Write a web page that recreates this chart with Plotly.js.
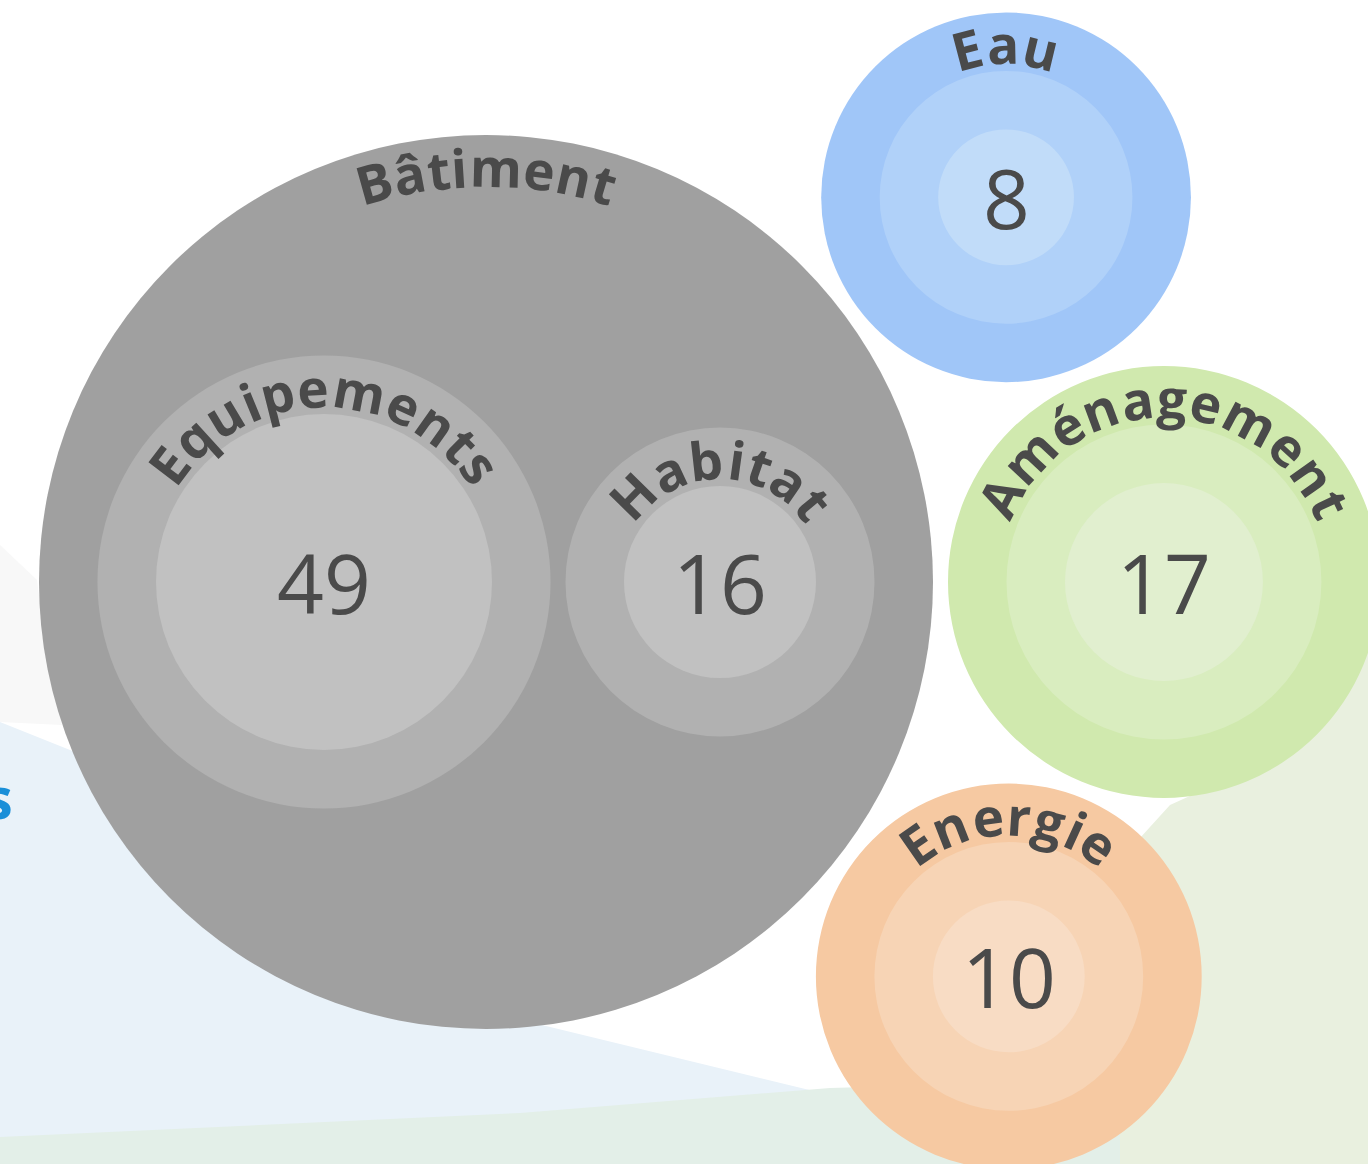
<!DOCTYPE html>
<html><head><meta charset="utf-8">
<script src="https://cdn.plot.ly/plotly-3.0.1.min.js"></script>
<style>html,body{margin:0;padding:0;background:#fff;overflow:hidden}#chart{width:1368px;height:1164px}</style>
</head><body><div id="chart"></div>
<script>
// ---------------- data ----------------
const groupNames = ['Bâtiment', 'Eau', 'Aménagement', 'Energie'];
const leafNames  = ['Equipements', 'Habitat', 'Eau', 'Aménagement', 'Energie'];
const leafGroups = ['Bâtiment', 'Bâtiment', 'Eau', 'Aménagement', 'Energie'];
const leafValues = [49, 16, 8, 17, 10];

// ---------------- styles ----------------
const groupColors = {
  'Bâtiment':    ['#a0a0a0', '#b1b1b1', '#c1c1c1'],
  'Eau':         ['#a0c6f8', '#b0d1f9', '#c1dcf9'],
  'Aménagement': ['#d0e9ae', '#d9edbf', '#e1efcf'],
  'Energie':     ['#f6c9a2', '#f7d4b5', '#f8dcc4']
};
const W = 1368, H = 1164;
const K = 24;          // px of radius per sqrt(value)
const PAD = 58.5;      // ring padding per level
const GAP = 15;        // gap between siblings
const LABEL_FS = 53, LABEL_INSET = 52, LETTER_SP = 0.5;
const NUM_FS = 82;
const TEXT_COLOR = '#4a4a4a';
const FONT = '"Open Sans", "Noto Sans", sans-serif';
const VIEW_X = [-486, W - 486], VIEW_Y = [H - 582, -582];

// ---------------- packing ----------------
const groups = groupNames.map(g => {
  const idx = leafNames.map((_, i) => i).filter(i => leafGroups[i] === g);
  const leaves = idx.map(i => {
    const rin = K * Math.sqrt(leafValues[i]);
    return {name: leafNames[i], value: leafValues[i], rin, r: rin + PAD, dx: 0, dy: 0};
  });
  let R;
  if (leaves.length === 1) { R = leaves[0].r + PAD; }
  else {
    const total = leaves.reduce((s, l) => s + 2 * l.r, 0) + GAP * (leaves.length - 1);
    let x = -total / 2;
    leaves.forEach(l => { l.dx = x + l.r; x += 2 * l.r + GAP; });
    R = total / 2 + PAD;
  }
  return {name: g, leaves, r: R, x: 0, y: 0};
});
const order = groups.slice().sort((a, b) => b.r - a.r);
const A = order[0], B = order[1];
A.x = 0; A.y = 0;
B.x = A.r + B.r + GAP; B.y = 0;
function tangent(a, b, c, side) {
  const da = a.r + c.r + GAP, db = b.r + c.r + GAP;
  const dx = b.x - a.x, dy = b.y - a.y, d = Math.hypot(dx, dy);
  const ux = dx / d, uy = dy / d;
  const along = (da * da - db * db + d * d) / (2 * d);
  const h = Math.sqrt(Math.max(0, da * da - along * along));
  c.x = a.x + ux * along - uy * h * side;
  c.y = a.y + uy * along + ux * h * side;
}
order.slice(2).forEach((c, i) => tangent(A, B, c, i % 2 === 0 ? 1 : -1));

// ---------------- shapes ----------------
const shapes = [];
function P(px, py) { return (px / W).toFixed(5) + ',' + (1 - py / H).toFixed(5); }
function poly(pts, color) {
  shapes.push({type: 'path', xref: 'paper', yref: 'paper', layer: 'below',
    path: 'M' + pts.map(p => P(p[0], p[1])).join('L') + 'Z',
    fillcolor: color, line: {width: 0}});
}
// background scenery
poly([[0,545],[37,580],[50,680],[62,725],[0,722]], '#f8f8f8');
poly([[0,722],[120,770],[480,1010],[830,1095],[840,1164],[0,1164]], '#e9f2f9');
poly([[0,1137],[520,1113],[830,1088],[1120,1080],[1120,1164],[0,1164]], '#e3efe8');
poly([[1120,860],[1170,805],[1280,755],[1368,640],[1368,1164],[1120,1164]], '#e9f0df');

function circ(cx, cy, r, color) {
  shapes.push({type: 'circle', xref: 'x', yref: 'y', layer: 'below',
    x0: cx - r, x1: cx + r, y0: cy - r, y1: cy + r,
    fillcolor: color, line: {width: 0}});
}
const annotations = [];
const cvs = document.createElement('canvas').getContext('2d');
function arcText(text, cx, cy, R) {
  const rb = R - LABEL_INSET;
  cvs.font = '700 ' + LABEL_FS + 'px "Open Sans"';
  const chars = [...text];
  const widths = chars.map(ch => cvs.measureText(ch).width);
  const total = widths.reduce((a, b) => a + b, 0) + LETTER_SP * (chars.length - 1);
  let s = -total / 2;
  const rc = rb + 0.39 * LABEL_FS;
  chars.forEach((ch, i) => {
    const th = (s + widths[i] / 2) / rb;
    annotations.push({xref: 'x', yref: 'y', x: cx + rc * Math.sin(th), y: cy - rc * Math.cos(th),
      text: ch, textangle: th * 180 / Math.PI, showarrow: false, xanchor: 'center', yanchor: 'middle',
      font: {family: FONT, size: LABEL_FS, color: TEXT_COLOR, weight: 700}, borderpad: 0});
    s += widths[i] + LETTER_SP;
  });
}
const numX = [], numY = [], numT = [];
groups.forEach(g => {
  const col = groupColors[g.name];
  circ(g.x, g.y, g.r, col[0]);
  g.leaves.forEach(l => {
    const cx = g.x + l.dx, cy = g.y + l.dy;
    circ(cx, cy, l.r, col[1]);
    circ(cx, cy, l.rin, col[2]);
    if (l.name !== g.name) arcText(l.name, cx, cy, l.r);
    numX.push(cx); numY.push(cy); numT.push(String(l.value));
  });
  arcText(g.name, g.x, g.y, g.r);
});
// values in the centre of each leaf
numX.forEach((x, i) => annotations.push({xref: 'x', yref: 'y', x, y: numY[i], text: numT[i],
  showarrow: false, xanchor: 'center', yanchor: 'middle', borderpad: 0,
  font: {family: FONT, size: NUM_FS, color: TEXT_COLOR, weight: 400}}));
// partially visible page title letter at the left edge
annotations.push({xref: 'paper', yref: 'paper', x: 15 / W, y: 1 - 796 / H, text: 's', showarrow: false,
  xanchor: 'right', yanchor: 'middle', font: {family: FONT, size: 58, color: '#1a8fd8', weight: 700}});

const trace = {type: 'scatter', mode: 'markers', x: numX, y: numY, hoverinfo: 'skip',
  marker: {size: 1, opacity: 0}};

const ax = {visible: false, showgrid: false, zeroline: false, fixedrange: true};
Plotly.newPlot('chart', [trace], {
  width: W, height: H, margin: {l: 0, r: 0, t: 0, b: 0},
  paper_bgcolor: '#ffffff', plot_bgcolor: 'rgba(0,0,0,0)',
  xaxis: Object.assign({range: VIEW_X}, ax),
  yaxis: Object.assign({range: VIEW_Y}, ax),
  showlegend: false, hovermode: false, shapes, annotations
}, {displayModeBar: false, staticPlot: true});
</script></body></html>
